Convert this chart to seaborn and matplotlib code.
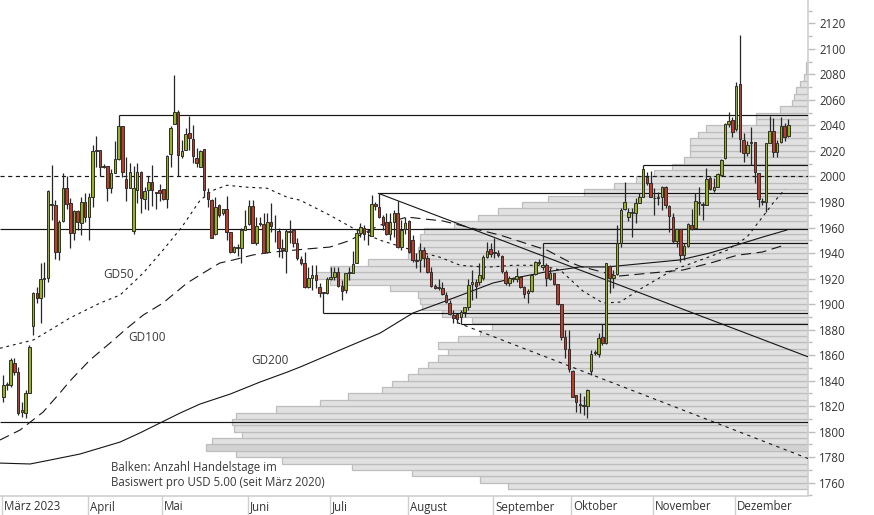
import matplotlib
matplotlib.use("Agg")
import matplotlib.pyplot as plt
import seaborn as sns
import numpy as np
from matplotlib.ticker import MultipleLocator

# ---------------- data ----------------
month_names = ["März 2023", "April", "Mai", "Juni", "Juli", "August",
               "September", "Oktober", "November", "Dezember"]
month_first_idx = [0, 23, 43, 66, 88, 109, 132, 153, 175, 197]

opens = [1827.4, 1836.6, 1836.6, 1853.6, 1847.0, 1815.6, 1814.4, 1830.6, 1883.0, 1909.0,
         1904.5, 1919.4, 1920.2, 1977.6, 1977.6, 1941.0, 1965.3, 1990.7, 1979.5, 1956.0,
         1973.0, 1963.8, 1979.7, 1968.5, 1984.2, 2020.0, 2020.8, 2007.7, 2008.2, 1991.2,
         2003.0, 2013.4, 2039.6, 1998.0, 1991.2, 1957.0, 1989.4, 2003.8, 1982.1, 1989.4,
         1996.0, 1987.3, 1989.4, 1989.9, 1982.1, 2017.4, 2040.9, 2050.2, 2016.3, 2020.5,
         2033.8, 2029.1, 2014.2, 2007.7, 2021.3, 1988.1, 1981.6, 1954.7, 1977.4, 1971.7,
         1974.6, 1956.5, 1940.6, 1945.0, 1943.7, 1958.0, 1962.8, 1977.2, 1947.6, 1962.5,
         1962.5, 1940.6, 1964.6, 1958.5, 1957.5, 1943.6, 1941.6, 1956.5, 1958.0, 1948.1,
         1935.0, 1931.9, 1913.6, 1920.5, 1922.8, 1913.1, 1908.4, 1908.4, 1919.4, 1921.5,
         1925.4, 1914.1, 1911.0, 1924.1, 1924.1, 1932.4, 1955.9, 1959.3, 1956.5, 1953.3,
         1978.4, 1975.8, 1968.5, 1964.5, 1954.9, 1964.5, 1971.1, 1945.0, 1958.5, 1965.4,
         1950.3, 1934.6, 1934.6, 1942.4, 1935.9, 1925.4, 1914.2, 1912.4, 1912.4, 1907.2,
         1900.6, 1891.5, 1892.3, 1890.0, 1894.1, 1897.5, 1915.5, 1917.6, 1917.6, 1920.2,
         1937.2, 1942.9, 1939.8, 1940.3, 1937.7, 1925.4, 1916.8, 1919.5, 1919.5, 1921.5,
         1913.2, 1908.5, 1910.6, 1923.6, 1933.0, 1928.8, 1930.6, 1919.4, 1924.1, 1915.7,
         1900.0, 1874.4, 1864.5, 1847.8, 1828.7, 1821.5, 1820.5, 1820.1, 1847.8, 1861.5,
         1860.8, 1873.9, 1869.2, 1929.8, 1920.1, 1923.3, 1947.6, 1974.2, 1967.9, 1971.6,
         1971.6, 1979.4, 1984.1, 1999.8, 1994.6, 1982.8, 1983.0, 1983.6, 1991.4, 1976.8,
         1968.5, 1949.7, 1958.6, 1938.5, 1945.5, 1962.0, 1959.4, 1979.0, 1977.7, 1977.7,
         1999.1, 1989.4, 1992.0, 2001.2, 2014.2, 2040.9, 2044.3, 2037.2, 2072.5, 2028.6,
         2018.7, 2026.0, 2027.3, 2002.5, 1981.0, 1980.3, 2026.5, 2035.7, 2019.5, 2027.3,
         2039.6, 2031.7]
highs = [1844.4, 1839.0, 1857.5, 1857.5, 1850.9, 1823.5, 1832.6, 1867.9, 1909.7, 1913.6,
         1931.9, 1933.2, 1989.4, 2009.0, 1981.5, 1965.9, 2002.4, 2000.0, 1982.8, 1973.7,
         1973.7, 1984.2, 1986.8, 1987.3, 2024.7, 2031.7, 2020.8, 2009.8, 2008.2, 2005.6,
         2027.8, 2048.2, 2039.6, 2015.0, 2010.8, 2008.0, 2010.8, 2004.3, 1992.0, 2000.0,
         2009.0, 1988.1, 1993.9, 1990.2, 2016.8, 2039.8, 2079.5, 2052.0, 2028.6, 2037.7,
         2047.5, 2040.4, 2022.1, 2020.8, 2021.3, 1990.7, 1982.1, 1984.2, 1978.4, 1974.6,
         1984.7, 1956.5, 1945.6, 1947.0, 1959.5, 1973.8, 1981.6, 1981.6, 1968.5, 1968.5,
         1971.2, 1971.2, 1979.0, 1969.8, 1959.3, 1951.0, 1958.5, 1965.9, 1958.5, 1951.5,
         1937.6, 1941.0, 1928.8, 1931.0, 1930.6, 1916.2, 1909.7, 1921.0, 1928.8, 1928.8,
         1928.8, 1918.8, 1924.6, 1929.0, 1941.8, 1958.0, 1963.2, 1962.0, 1958.0, 1985.4,
         1980.0, 1986.8, 1969.8, 1971.1, 1971.1, 1973.7, 1981.0, 1965.9, 1968.0, 1965.9,
         1954.2, 1940.0, 1947.6, 1945.0, 1938.5, 1929.4, 1916.0, 1920.0, 1917.6, 1909.8,
         1903.2, 1895.4, 1893.0, 1895.0, 1898.0, 1919.4, 1926.7, 1920.0, 1932.0, 1938.5,
         1948.9, 1947.6, 1951.5, 1942.0, 1938.5, 1926.7, 1922.0, 1921.0, 1928.0, 1922.0,
         1914.0, 1911.5, 1923.6, 1934.0, 1935.0, 1947.6, 1931.9, 1928.0, 1924.6, 1916.0,
         1900.0, 1879.6, 1879.6, 1848.0, 1829.0, 1830.0, 1828.0, 1833.1, 1864.0, 1863.8,
         1877.0, 1884.4, 1931.9, 1930.5, 1926.7, 1961.9, 1975.0, 1995.9, 1975.0, 1975.0,
         1982.8, 1986.8, 2008.8, 2003.7, 2004.5, 1990.7, 1988.0, 1992.5, 1992.5, 1977.6,
         1971.0, 1958.6, 1958.6, 1947.6, 1963.3, 1974.3, 1986.8, 1992.0, 1980.0, 2006.4,
         2000.0, 1998.6, 2003.0, 2013.5, 2041.7, 2050.8, 2046.4, 2074.3, 2110.9, 2033.8,
         2028.0, 2039.0, 2027.3, 2002.5, 1983.0, 2026.5, 2047.4, 2045.6, 2028.6, 2046.4,
         2041.7, 2044.8]
lows = [1823.5, 1833.0, 1835.3, 1844.4, 1813.1, 1811.8, 1810.5, 1830.0, 1875.8, 1900.6,
        1885.4, 1905.8, 1917.5, 1966.0, 1935.0, 1934.5, 1964.6, 1974.2, 1943.7, 1950.0,
        1958.1, 1954.2, 1964.6, 1950.2, 1976.4, 2007.7, 2000.4, 2006.4, 1980.8, 1986.8,
        2002.5, 2013.0, 1999.9, 1980.8, 1990.7, 1955.0, 1979.0, 1971.0, 1974.3, 1973.8,
        1977.0, 1974.3, 1980.8, 1981.6, 1975.0, 2007.7, 2040.9, 2000.0, 2014.2, 2020.5,
        2020.8, 2010.8, 2007.2, 2007.7, 1984.2, 1976.0, 1951.5, 1954.2, 1968.5, 1970.0,
        1950.2, 1940.3, 1939.8, 1938.0, 1932.0, 1958.0, 1962.0, 1947.6, 1946.3, 1961.2,
        1940.0, 1939.8, 1956.8, 1948.9, 1937.1, 1936.0, 1924.6, 1947.6, 1945.0, 1934.5,
        1930.6, 1912.3, 1912.3, 1911.0, 1912.3, 1905.8, 1892.8, 1907.9, 1918.8, 1918.8,
        1913.6, 1903.2, 1908.4, 1919.0, 1924.1, 1931.9, 1952.8, 1950.0, 1946.3, 1953.3,
        1974.0, 1967.2, 1958.0, 1954.1, 1950.2, 1952.8, 1943.7, 1942.3, 1955.0, 1939.8,
        1933.3, 1928.0, 1925.4, 1929.4, 1924.1, 1913.7, 1911.6, 1911.0, 1907.2, 1900.6,
        1891.5, 1885.0, 1885.0, 1884.1, 1890.0, 1895.4, 1903.0, 1905.0, 1915.0, 1918.9,
        1935.9, 1937.2, 1936.0, 1937.0, 1924.1, 1915.0, 1914.0, 1917.5, 1917.6, 1912.4,
        1904.5, 1900.6, 1909.8, 1922.8, 1930.6, 1927.0, 1914.2, 1918.8, 1914.9, 1899.3,
        1871.8, 1857.5, 1847.0, 1826.9, 1815.7, 1814.4, 1813.0, 1810.4, 1844.4, 1859.8,
        1858.2, 1867.9, 1868.7, 1908.4, 1912.3, 1922.8, 1945.0, 1973.7, 1965.0, 1952.8,
        1963.2, 1978.9, 1984.1, 1993.3, 1984.0, 1969.8, 1978.0, 1973.7, 1975.0, 1956.7,
        1947.6, 1945.0, 1933.3, 1934.6, 1944.5, 1958.0, 1958.6, 1969.8, 1966.0, 1977.7,
        1989.4, 1988.0, 1991.5, 2000.0, 2013.5, 2039.1, 2031.2, 2036.0, 2019.5, 2011.6,
        2016.0, 2009.0, 1994.7, 1976.4, 1977.7, 1972.5, 2026.0, 2015.6, 2015.6, 2026.0,
        2028.0, 2031.0]
closes = [1836.6, 1837.0, 1856.2, 1847.0, 1814.4, 1817.0, 1830.0, 1866.6, 1909.0, 1904.5,
          1919.4, 1919.8, 1988.6, 1977.9, 1941.0, 1964.6, 1990.7, 1978.4, 1956.0, 1973.2,
          1964.6, 1979.7, 1968.5, 1983.7, 2020.0, 2020.4, 2007.7, 2008.0, 1991.2, 2002.5,
          2013.4, 2039.6, 2003.8, 1990.7, 2003.8, 1991.0, 2003.8, 1983.0, 1988.6, 1996.0,
          1989.4, 1987.6, 1987.3, 1982.1, 2016.0, 2038.1, 2050.2, 2016.8, 2019.7, 2033.0,
          2029.9, 2016.0, 2010.3, 2019.7, 1989.4, 1982.3, 1951.6, 1976.4, 1969.8, 1974.3,
          1956.8, 1941.1, 1945.0, 1943.8, 1958.0, 1961.5, 1977.2, 1947.6, 1961.5, 1962.8,
          1940.3, 1964.6, 1961.2, 1958.7, 1943.6, 1942.5, 1957.5, 1956.9, 1947.6, 1935.8,
          1931.9, 1913.6, 1920.1, 1922.5, 1918.8, 1908.4, 1908.6, 1919.4, 1921.5, 1925.4,
          1914.1, 1910.2, 1924.1, 1924.6, 1931.4, 1955.9, 1960.6, 1954.6, 1956.9, 1978.4,
          1976.8, 1968.5, 1961.9, 1954.9, 1964.5, 1971.1, 1945.0, 1958.0, 1963.8, 1941.1,
          1934.6, 1934.0, 1942.4, 1935.9, 1925.4, 1914.2, 1912.4, 1913.0, 1908.0, 1901.9,
          1892.3, 1888.9, 1888.1, 1894.0, 1897.5, 1915.0, 1917.6, 1914.5, 1922.8, 1937.2,
          1941.9, 1939.3, 1940.5, 1938.5, 1926.0, 1916.3, 1920.2, 1919.8, 1922.0, 1913.2,
          1908.0, 1910.6, 1922.8, 1933.3, 1932.5, 1930.6, 1920.1, 1924.6, 1915.7, 1900.0,
          1874.4, 1864.5, 1848.8, 1827.4, 1823.5, 1821.0, 1820.0, 1832.6, 1860.8, 1862.7,
          1873.1, 1869.2, 1931.9, 1920.1, 1922.8, 1947.6, 1973.7, 1980.2, 1972.4, 1971.9,
          1978.9, 1983.6, 2005.5, 1994.6, 1984.1, 1983.0, 1983.6, 1991.4, 1977.6, 1969.0,
          1949.7, 1958.6, 1938.5, 1945.5, 1962.8, 1958.9, 1980.8, 1979.3, 1978.0, 1997.8,
          1990.0, 1992.0, 2002.0, 2012.9, 2040.9, 2043.8, 2035.1, 2070.9, 2029.1, 2018.7,
          2024.7, 2027.3, 2003.8, 1982.1, 1980.0, 2026.5, 2035.7, 2019.5, 2026.0, 2039.6,
          2031.2, 2040.4]

gd50_idx = [-0.9, 8.0, 12.6, 17.9, 26.0, 31.4, 37.6, 42.9, 48.0, 52.9, 56.4, 60.1, 65.5,
            70.9, 76.3, 79.8, 87.8, 94.0, 101.3, 110.1, 117.4, 122.8, 130.0, 137.0, 144.3,
            149.7, 155.8, 161.2, 165.8, 171.2, 180.0, 187.3, 194.5, 199.9, 203.4, 206.9, 210.1]
gd50_val = [1865.4, 1871.8, 1879.7, 1889.1, 1900.8, 1907.1, 1924.3, 1942.2, 1960.4, 1981.4,
            1989.2, 1993.1, 1991.6, 1990.8, 1983.7, 1981.4, 1969.6, 1959.5, 1950.0, 1942.2,
            1936.7, 1930.4, 1928.9, 1930.4, 1930.4, 1926.7, 1910.2, 1900.8, 1901.6, 1911.8,
            1926.7, 1934.4, 1942.2, 1952.5, 1965.7, 1979.1, 1990.0]
gd100_idx = [-0.9, 4.5, 10.7, 15.2, 17.9, 23.3, 28.7, 33.3, 37.6, 42.9, 49.4, 53.7, 58.2,
             61.7, 67.1, 72.5, 81.6, 87.8, 92.7, 101.3, 108.5, 118.2, 133.5, 146.2, 152.3,
             155.0, 165.2, 173.9, 182.7, 190.8, 197.3, 204.0, 210.1]
gd100_val = [1793.5, 1801.3, 1815.4, 1830.3, 1839.7, 1856.2, 1869.5, 1881.2, 1891.4, 1900.8,
             1916.5, 1924.3, 1932.2, 1934.5, 1938.5, 1940.8, 1943.2, 1944.7, 1949.4, 1961.9,
             1968.2, 1965.1, 1954.1, 1942.2, 1932.8, 1929.7, 1921.9, 1924.3, 1926.7, 1932.8,
             1938.3, 1940.8, 1946.3]
gd200_idx = [-0.9, 7.2, 12.6, 20.6, 26.0, 31.4, 36.7, 42.1, 47.5, 52.9, 61.0, 69.0, 76.3,
             79.8, 90.5, 101.3, 110.1, 117.4, 124.6, 131.6, 137.5, 145.6, 155.0, 162.3, 181.9,
             190.0, 197.2, 204.2, 210.7]
gd200_val = [1775.4, 1774.7, 1777.8, 1782.5, 1787.2, 1791.9, 1799.0, 1806.8, 1814.6, 1821.7,
             1829.5, 1838.9, 1846.7, 1850.7, 1864.0, 1877.3, 1893.0, 1900.8, 1908.7, 1916.5,
             1920.4, 1925.1, 1929.1, 1929.1, 1934.6, 1940.1, 1946.3, 1952.6, 1958.1]

# volume profile: trading days per USD 5.00 bucket (lower bound of bucket)
profile_low = [1755, 1760, 1765, 1770, 1775, 1780, 1785, 1790, 1795, 1800, 1805, 1810, 1815,
               1820, 1825, 1830, 1835, 1840, 1845, 1850, 1855, 1860, 1865, 1870, 1875, 1880,
               1885, 1890, 1895, 1900, 1905, 1910, 1915, 1920, 1925, 1930, 1935, 1940, 1945,
               1950, 1955, 1960, 1965, 1970, 1975, 1980, 1985, 1990, 1995, 2000, 2005, 2010,
               2015, 2020, 2025, 2030, 2035, 2040, 2045, 2050, 2055, 2060, 2065, 2070, 2075,
               2080, 2085]
profile_days = [150, 164, 198, 228, 263, 286, 301, 298, 283, 287, 288, 286, 266,
                244, 230, 213, 208, 200, 195, 190, 185, 180, 185, 175, 164, 158,
                168, 183, 193, 194, 195, 209, 239, 246, 239, 220, 200, 195, 194,
                194, 192, 177, 165, 155, 143, 130, 112, 97, 86, 77, 68, 62,
                59, 59, 59, 55, 51, 26, 26, 14, 8, 7, 6, 4, 2,
                1, 1]

# support / resistance levels (value, first index; None = whole width)
level_vals = [2048.2, 2008.8, 1986.8, 1958.6, 1947.6, 1892.8, 1884.1, 1807.3]
level_start = [31, 172, 101, None, 145, 86, 123, None]
dashed_level = 2000.0
upper_trend = ([100.8, 216.3], [1986.8, 1858.7])
lower_trend = ([122.0, 216.3], [1885.5, 1779.0])

# ---------------- style ----------------
sns.set_theme(style="white")
plt.rcParams["font.family"] = ["Open Sans", "DejaVu Sans"]

W, H = 874, 515
fig = plt.figure(figsize=(W / 100, H / 100), dpi=100)
ax_bottom_px = 495.5
ax = fig.add_axes([0, 1 - ax_bottom_px / H, 808 / W, ax_bottom_px / H])
XMIN, XMAX = -0.887, 216.3
ax.set_xlim(XMIN, XMAX)
ax.set_ylim(1750, 2138.3)
ax.set_facecolor("white")

# volume profile
profile_scale = 0.5376
maxd = max(profile_days)
pcolors = ["#d2d2d2" if d == maxd else "#e1e1e1" for d in profile_days]
ax.barh(profile_low, [-d * profile_scale for d in profile_days], left=XMAX, height=5,
        align="edge", color=pcolors, edgecolor="#bdbdbd", linewidth=0.9, zorder=1)

# levels
line_col = "#151515"
for v, s in zip(level_vals, level_start):
    x0 = XMIN if s is None else s
    ax.hlines(v, x0, XMAX, color=line_col, lw=0.85, zorder=3)
ax.hlines(dashed_level, XMIN, XMAX, color=line_col, lw=0.85,
          linestyles=(0, (3.5, 3)), zorder=3)
ax.plot(*upper_trend, color=line_col, lw=0.8, zorder=3)
ax.plot(*lower_trend, color=line_col, lw=0.8, ls=(0, (3, 4)), zorder=3)

# moving averages
sns.lineplot(x=gd50_idx, y=gd50_val, ax=ax, color=line_col, lw=0.8,
             linestyle=(0, (2.5, 3.5)), sort=False, estimator=None, zorder=3)
sns.lineplot(x=gd100_idx, y=gd100_val, ax=ax, color=line_col, lw=0.8,
             linestyle=(0, (9, 5)), sort=False, estimator=None, zorder=3)
sns.lineplot(x=gd200_idx, y=gd200_val, ax=ax, color=line_col, lw=0.8,
             sort=False, estimator=None, zorder=3)

# candles
idx = np.arange(len(closes))
o = np.array(opens); c = np.array(closes); hi = np.array(highs); lo = np.array(lows)
up = c >= o
ax.vlines(idx, lo, hi, color="#262626", lw=0.9, zorder=4)
body_bot = np.minimum(o, c)
body_h = np.maximum(np.abs(c - o), 0.7)
ax.bar(idx, body_h, bottom=body_bot, width=0.68,
       color=np.where(up, "#95b41c", "#c23a26"), edgecolor="#2e2e2e",
       linewidth=0.7, zorder=5)

# labels on chart
txt_col = "#3a3a3a"
ax.text(26.8, 1922.8, "GD50", fontsize=8.5, color=txt_col, va="center", ha="left", zorder=6)
ax.text(33.5, 1873.6, "GD100", fontsize=8.5, color=txt_col, va="center", ha="left", zorder=6)
ax.text(66.6, 1855.6, "GD200", fontsize=8.5, color=txt_col, va="center", ha="left", zorder=6)
ax.text(28.9, 1766.0, "Balken: Anzahl Handelstage im\nBasiswert pro USD 5.00 (seit März 2020)",
        fontsize=8.3, color=txt_col, va="center", ha="left", linespacing=1.25, zorder=6)

# axes styling
for sp in ["left", "top"]:
    ax.spines[sp].set_visible(False)
ax.spines["right"].set_color("#cfcfcf")
ax.spines["bottom"].set_color("#cfcfcf")
ax.spines["right"].set_linewidth(1.2)
ax.spines["bottom"].set_linewidth(1.2)
ax.yaxis.tick_right()
ax.set_yticks(list(range(1760, 2121, 20)))
ax.yaxis.set_minor_locator(MultipleLocator(10))
ax.tick_params(axis="y", which="major", length=5, width=1, color="#bdbdbd",
               labelsize=8.3, labelcolor="#333333", pad=3, direction="out")
ax.tick_params(axis="y", which="minor", length=3, width=1, color="#bdbdbd", direction="out")
ax.set_xticks([])
ax.grid(False)

# month separators and labels
for name, mi in zip(month_names, month_first_idx):
    xs = mi - 0.3
    ax.plot([xs, xs], [0, -(H - ax_bottom_px) / ax_bottom_px],
            transform=ax.get_xaxis_transform(), color="#cfcfcf", lw=1.0, clip_on=False)
    ax.text(xs + 0.55, -(507 - ax_bottom_px) / ax_bottom_px, name,
            transform=ax.get_xaxis_transform(), fontsize=8.3, color="#333333",
            ha="left", va="center", clip_on=False)

fig.savefig("out.png", dpi=100)
